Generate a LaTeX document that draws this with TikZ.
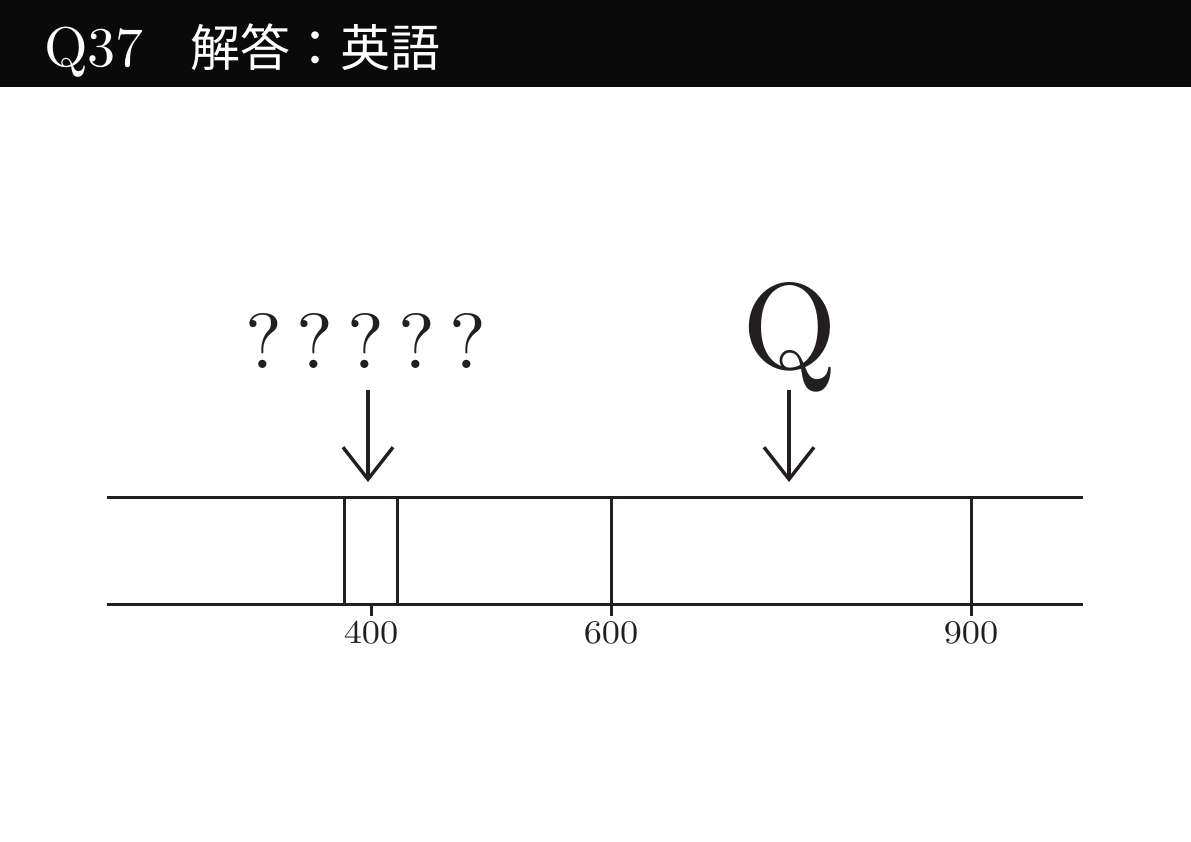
\documentclass[tikz,border=0pt]{standalone}
\usepackage{fontspec}
\newfontfamily\cjk{Noto Sans CJK JP}
\newfontfamily\lmten{lmroman10-regular.otf}
\usetikzlibrary{arrows.meta}
\definecolor{ink}{HTML}{231F20}
\definecolor{barblack}{HTML}{0A0A0A}
\tikzset{
  axisline/.style={draw=ink, line width=3pt},
  numlabel/.style={anchor=base, inner sep=0pt, text=ink, font=\lmten\fontsize{33}{33}\selectfont, xscale=1.1},
  pointer/.style={draw=ink, line width=3.4pt, -{Straight Barb[length=32pt,width=50pt,line width=3.4pt]}},
  titletext/.style={anchor=base west, inner sep=0pt, text=white}
}
\begin{document}
\begin{tikzpicture}[x=1pt,y=-1pt]
\useasboundingbox (0,0) rectangle (1191,842);
\fill[barblack] (0,0) rectangle (1191,87);
\node[titletext, font=\lmten\fontsize{56}{56}\selectfont] (qnum) at (44,67) {Q37};
\node[titletext, font=\cjk\fontsize{50}{50}\selectfont] (subj) at (190,67) {解答：英語};

% number line
\coordinate (tl) at (107,497);
\coordinate (tr) at (1083,497);
\coordinate (bl) at (107,604);
\coordinate (br) at (1083,604);
\draw[axisline] (tl) -- (tr);
\draw[axisline] (bl) -- (br);
\foreach \xx/\nm in {344/a,397/b,611/c,971/d}{
  \coordinate (v\nm t) at (\xx,497);
  \coordinate (v\nm b) at (\xx,604);
  \draw[axisline] (v\nm t) -- (v\nm b);
}
\foreach \xx/\nm in {371/a,611/b,971/c}{
  \coordinate (t\nm t) at (\xx,604);
  \coordinate (t\nm b) at (\xx,616);
  \draw[axisline] (t\nm t) -- (t\nm b);
}
\node[numlabel] (l400) at (371,643) {400};
\node[numlabel] (l600) at (611,643) {600};
\node[numlabel] (l900) at (971,643) {900};

% markers
\node[anchor=base, inner sep=0pt, text=ink, font=\lmten\fontsize{78}{78}\selectfont] (qm) at (366,368) {?\kern14pt?\kern14pt?\kern14pt?\kern14pt?};
\node[anchor=base, inner sep=0pt, text=ink, font=\lmten\fontsize{122}{122}\selectfont] (bigq) at (790,368) {Q};
\coordinate (qms) at (368,390);
\coordinate (qme) at (368,482);
\coordinate (bqs) at (789,390);
\coordinate (bqe) at (789,482);
\draw[pointer] (qms) -- (qme);
\draw[pointer] (bqs) -- (bqe);
\end{tikzpicture}
\end{document}
